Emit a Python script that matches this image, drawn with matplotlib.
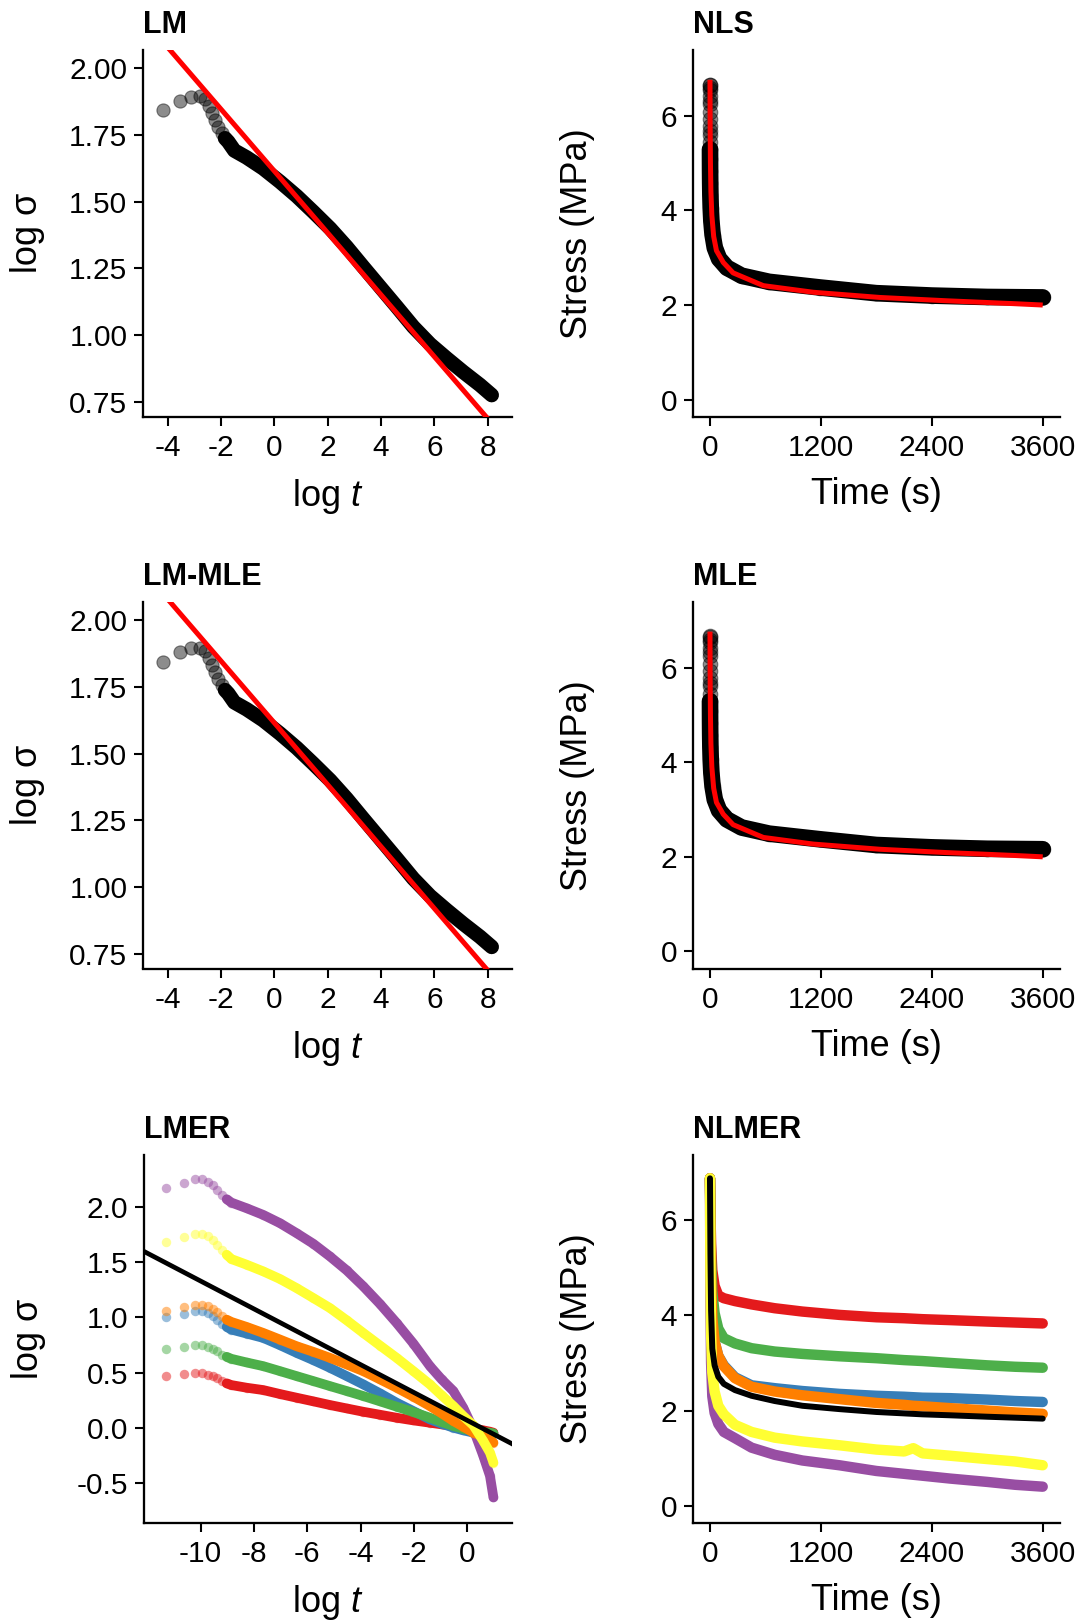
import numpy as np
import matplotlib
matplotlib.use("Agg")
import matplotlib.pyplot as plt
from matplotlib.ticker import FixedLocator, FormatStrFormatter

plt.rcParams["font.family"] = ["Liberation Sans", "DejaVu Sans"]
plt.rcParams["mathtext.fontset"] = "custom"
plt.rcParams["mathtext.rm"] = "Liberation Sans"
plt.rcParams["mathtext.it"] = "Liberation Sans:italic"
plt.rcParams["axes.unicode_minus"] = False

# ---------------- data ----------------
# LM / LM-MLE : log stress vs log time
lm_logt = [-4.19, -3.53, -3.13, -2.79, -2.60, -2.44, -2.33, -2.23, -2.10, -1.98,
           -1.85, -1.73, -1.50, -1.04, -0.42, 0.21, 0.84, 1.46, 2.09, 2.71,
           3.33, 3.96, 4.59, 5.21, 5.84, 6.46, 7.08, 7.71, 8.15]
lm_logsig = [1.844, 1.879, 1.894, 1.896, 1.884, 1.859, 1.831, 1.806, 1.781, 1.756,
             1.738, 1.725, 1.692, 1.666, 1.625, 1.575, 1.521, 1.462, 1.400, 1.331,
             1.256, 1.181, 1.106, 1.031, 0.966, 0.913, 0.862, 0.813, 0.775]
lm_intercept, lm_slope = 1.615, -0.116

# NLS / MLE : stress vs time
nls_time = [0.015, 0.03, 0.045, 0.06, 0.07, 0.09, 0.1, 0.11, 0.12, 0.14, 0.16, 0.18,
            0.22, 0.35, 0.66, 1.2, 2.3, 4.3, 8, 15, 28, 52, 98, 183, 342, 640,
            1194, 1800, 2400, 3000, 3600]
nls_stress = [6.32, 6.55, 6.65, 6.66, 6.58, 6.42, 6.24, 6.08, 5.93, 5.78, 5.68, 5.60,
              5.45, 5.29, 5.08, 4.83, 4.58, 4.33, 4.06, 3.78, 3.49, 3.21, 2.98, 2.79,
              2.62, 2.49, 2.37, 2.25, 2.20, 2.17, 2.16]
fit_time = [0, 2, 5, 10, 20, 40, 70, 144, 250, 577, 1117, 1838, 2559, 3279, 3600]
fit_stress = [6.76, 5.7, 5.0, 4.4, 3.9, 3.45, 3.15, 2.90, 2.68, 2.41, 2.27, 2.16,
              2.09, 2.03, 2.00]

# LMER : log stress vs log time, six specimens
lmer_logt = [-11.31, -10.62, -10.21, -9.94, -9.71, -9.52, -9.37, -9.21, -9.02,
             -8.84, -8.27, -7.65, -7.02, -6.40, -5.77, -5.15, -4.52, -3.90, -3.27,
             -2.65, -2.02, -1.40, -0.96, -0.52, -0.15, 0.23, 0.60, 0.85, 0.98]
lmer_red = [0.469, 0.484, 0.493, 0.493, 0.481, 0.469, 0.454, 0.424, 0.403,
            0.388, 0.364, 0.343, 0.307, 0.274, 0.241, 0.208, 0.177, 0.147, 0.120,
            0.093, 0.069, 0.048, 0.033, 0.018, 0.006, -0.006, -0.021, -0.033, -0.042]
lmer_blue = [1.003, 1.033, 1.054, 1.054, 1.039, 1.009, 0.979, 0.943, 0.913,
             0.889, 0.853, 0.814, 0.748, 0.679, 0.613, 0.544, 0.469, 0.394, 0.313,
             0.229, 0.153, 0.078, 0.039, 0.003, -0.021, -0.042, -0.051, -0.054, -0.057]
lmer_green = [0.715, 0.736, 0.748, 0.748, 0.733, 0.715, 0.694, 0.664, 0.643,
              0.625, 0.592, 0.559, 0.514, 0.469, 0.424, 0.379, 0.334, 0.289, 0.241,
              0.193, 0.144, 0.093, 0.054, 0.018, -0.006, -0.027, -0.036, -0.042, -0.048]
lmer_purple = [2.168, 2.216, 2.246, 2.246, 2.225, 2.195, 2.150, 2.105, 2.066,
               2.036, 1.985, 1.925, 1.850, 1.760, 1.664, 1.550, 1.424, 1.280, 1.120,
               0.949, 0.763, 0.559, 0.439, 0.334, 0.183, -0.012, -0.252, -0.432, -0.627]
lmer_orange = [1.060, 1.090, 1.114, 1.114, 1.099, 1.078, 1.048, 1.009, 0.979,
               0.958, 0.913, 0.859, 0.799, 0.739, 0.688, 0.634, 0.574, 0.514, 0.439,
               0.364, 0.283, 0.198, 0.132, 0.063, 0.012, -0.042, -0.078, -0.108, -0.132]
lmer_yellow = [1.682, 1.724, 1.751, 1.751, 1.730, 1.694, 1.655, 1.610, 1.565,
               1.526, 1.475, 1.415, 1.346, 1.264, 1.174, 1.084, 0.973, 0.859, 0.745,
               0.634, 0.514, 0.394, 0.295, 0.198, 0.108, 0.024, -0.117, -0.222, -0.312]
lmer_intercept, lmer_slope = 0.069, -0.1259

# NLMER : stress vs time, six specimens + population fit
nlmer_time = [0, 5, 12, 25, 50, 90, 150, 270, 450, 700, 1000, 1400, 1800, 2100,
              2200, 2300, 2600, 3000, 3300, 3600]
nlmer_red = [6.88, 6.2, 5.5, 4.95, 4.62, 4.42, 4.36, 4.30, 4.23, 4.15, 4.08, 4.01,
             3.96, 3.94, 3.93, 3.92, 3.90, 3.87, 3.85, 3.83]
nlmer_blue = [6.88, 5.8, 4.8, 3.95, 3.45, 3.15, 2.95, 2.70, 2.53, 2.47, 2.41, 2.35,
              2.31, 2.29, 2.28, 2.27, 2.26, 2.23, 2.20, 2.18]
nlmer_green = [6.88, 6.0, 5.2, 4.5, 4.05, 3.72, 3.52, 3.41, 3.31, 3.24, 3.19, 3.14,
               3.10, 3.06, 3.05, 3.04, 3.00, 2.95, 2.92, 2.90]
nlmer_purple = [6.88, 4.3, 3.0, 2.3, 1.95, 1.72, 1.55, 1.42, 1.22, 1.07, 0.95, 0.85,
                0.73, 0.67, 0.65, 0.63, 0.57, 0.50, 0.44, 0.40]
nlmer_orange = [6.88, 5.8, 4.8, 3.95, 3.45, 3.15, 2.93, 2.68, 2.50, 2.40, 2.32, 2.24,
                2.16, 2.12, 2.10, 2.09, 2.05, 2.00, 1.96, 1.93]
nlmer_yellow = [6.88, 4.8, 3.6, 2.8, 2.4, 2.1, 1.92, 1.70, 1.55, 1.43, 1.35, 1.27,
                1.18, 1.14, 1.21, 1.10, 1.05, 0.98, 0.93, 0.85]
nlmer_fit = [6.88, 5.3, 4.1, 3.3, 2.95, 2.71, 2.56, 2.43, 2.31, 2.20, 2.10, 2.03,
             1.97, 1.94, 1.93, 1.92, 1.90, 1.87, 1.85, 1.83]

SET1 = {"red": "#E41A1C", "blue": "#377EB8", "green": "#4DAF4A",
        "purple": "#984EA3", "orange": "#FF7F00", "yellow": "#FFFF33"}

W, H = 1082, 1621
fig = plt.figure(figsize=(W / 100, H / 100), dpi=100)


def make_ax(left_px, top_px, right_px, bottom_px):
    ax = fig.add_axes([left_px / W, 1 - bottom_px / H,
                       (right_px - left_px) / W, (bottom_px - top_px) / H])
    for s in ("top", "right"):
        ax.spines[s].set_visible(False)
    for s in ("left", "bottom"):
        ax.spines[s].set_linewidth(1.65)
    ax.tick_params(direction="out", length=6.5, width=1.5, labelsize=21.5,
                   colors="black")
    ax.tick_params(axis="y", pad=5)
    ax.tick_params(axis="x", pad=6)
    return ax


def style_labels(ax, title, xlabel, ylabel):
    ax.set_title(title, loc="left", fontweight="bold", fontsize=22, pad=12)
    ax.set_xlabel(xlabel, fontsize=26)
    ax.set_ylabel(ylabel, fontsize=26)
    ax.xaxis.set_label_coords(0.5, -0.165)
    ax.yaxis.set_label_coords(-0.267, 0.5)


def lm_panel(ax, title):
    x = np.array(lm_logt); y = np.array(lm_logsig)
    dense = x > -1.9
    ax.plot(x[dense], y[dense], color="black", lw=10.5, solid_capstyle="round", zorder=2)
    ax.plot(x[~dense], y[~dense], "o", ms=9.5, color="black", alpha=0.45,
            mec="black", mew=0.8, zorder=2)
    ax.axline((0, lm_intercept), slope=lm_slope, color="#FF0000", lw=3.6, zorder=3)
    ax.set_xlim(-4.915, 8.9)
    ax.set_ylim(0.694, 2.069)
    ax.xaxis.set_major_locator(FixedLocator([-4, -2, 0, 2, 4, 6, 8]))
    ax.yaxis.set_major_locator(FixedLocator([0.75, 1.00, 1.25, 1.50, 1.75, 2.00]))
    ax.yaxis.set_major_formatter(FormatStrFormatter("%.2f"))
    style_labels(ax, title, r"log $t$", "log σ")


def nls_panel(ax, title):
    t = np.array(nls_time); s = np.array(nls_stress)
    dense = t >= 0.35
    ax.plot(t[dense], s[dense], color="black", lw=12, solid_capstyle="round", zorder=2)
    ax.plot(t, s, "o", ms=10.5, color="black", alpha=0.45, mec="black", mew=0.8, zorder=2)
    ax.plot(fit_time, fit_stress, color="#FF0000", lw=3.6, solid_capstyle="butt", zorder=3)
    ax.set_xlim(-180.5, 3787)
    ax.set_ylim(-0.36, 7.39)
    ax.xaxis.set_major_locator(FixedLocator([0, 1200, 2400, 3600]))
    ax.yaxis.set_major_locator(FixedLocator([0, 2, 4, 6]))
    style_labels(ax, title, "Time (s)", "Stress (MPa)")


L0, L1 = 143.3, 511.7
R0, R1 = 693.3, 1060
rows = [(50, 416.7), (601.8, 968.5), (1155, 1522.7)]

lm_panel(make_ax(L0, rows[0][0], L1, rows[0][1]), "LM")
nls_panel(make_ax(R0, rows[0][0], R1, rows[0][1]), "NLS")
lm_panel(make_ax(L0, rows[1][0], L1, rows[1][1]), "LM-MLE")
nls_panel(make_ax(R0, rows[1][0], R1, rows[1][1]), "MLE")

# LMER
ax = make_ax(144, rows[2][0], L1, rows[2][1])
x = np.array(lmer_logt)
for name, vals in [("red", lmer_red), ("blue", lmer_blue), ("green", lmer_green),
                   ("purple", lmer_purple), ("orange", lmer_orange), ("yellow", lmer_yellow)]:
    y = np.array(vals)
    dense = x > -9.1
    ax.plot(x[dense], y[dense], color=SET1[name], lw=7.0, solid_capstyle="round", zorder=2)
    ax.plot(x, y, "o", ms=6.8, color=SET1[name], alpha=0.5, mew=0, zorder=2)
ax.axline((0, lmer_intercept), slope=lmer_slope, color="black", lw=3.4, zorder=3)
ax.set_xlim(-12.12, 1.665)
ax.set_ylim(-0.855, 2.466)
ax.xaxis.set_major_locator(FixedLocator([-10, -8, -6, -4, -2, 0]))
ax.yaxis.set_major_locator(FixedLocator([-0.5, 0.0, 0.5, 1.0, 1.5, 2.0]))
ax.yaxis.set_major_formatter(FormatStrFormatter("%.1f"))
style_labels(ax, "LMER", r"log $t$", "log σ")

# NLMER
ax = make_ax(R0, rows[2][0], R1, rows[2][1])
for name, vals in [("red", nlmer_red), ("blue", nlmer_blue), ("green", nlmer_green),
                   ("purple", nlmer_purple), ("orange", nlmer_orange), ("yellow", nlmer_yellow)]:
    ax.plot(nlmer_time, vals, color=SET1[name], lw=7.5, solid_capstyle="round", zorder=2)
ax.plot(nlmer_time, nlmer_fit, color="black", lw=4.3, solid_capstyle="round", zorder=3)
ax.set_xlim(-180.5, 3787)
ax.set_ylim(-0.357, 7.37)
ax.xaxis.set_major_locator(FixedLocator([0, 1200, 2400, 3600]))
ax.yaxis.set_major_locator(FixedLocator([0, 2, 4, 6]))
style_labels(ax, "NLMER", "Time (s)", "Stress (MPa)")

fig.savefig("out.png", dpi=100, facecolor="white")
